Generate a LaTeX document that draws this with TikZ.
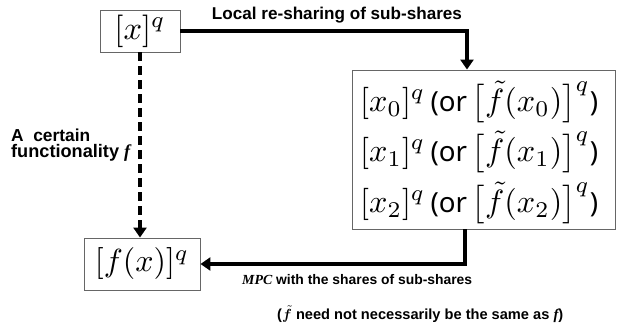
\documentclass[tikz,border=0pt]{standalone}
\usepackage{graphicx}
\usepackage{amsmath}
\usepackage{bm}
\usepackage{fontspec}
\newfontfamily\labfont{Liberation Sans}
\newfontfamily\orfont{Noto Sans}
\newfontfamily\serifbi{Liberation Serif}
\usetikzlibrary{arrows.meta,calc}
\newcommand{\bline}[1]{\resizebox{238pt}{!}{$[x_{#1}]^q\,${\orfont\fontsize{8.6}{10}\selectfont(or\,}$\bigl[\tilde f(x_{#1})\bigr]^q${\orfont\fontsize{8.6}{10}\selectfont)}}}
\newcommand{\bif}[1]{{\serifbi\bfseries\itshape #1}}
\begin{document}
\begin{tikzpicture}[x=1pt,y=-1pt,
  box/.style={draw=black!60,line width=0.9pt,inner sep=0pt,align=center},
  arr/.style={line width=3.6pt,-{Triangle[width=13pt,length=10pt]}},
  dasharr/.style={line width=3.6pt,dash pattern=on 9pt off 5pt,-{Triangle[width=13pt,length=10pt]}},
  lab/.style={font=\labfont\bfseries,inner sep=0pt},
  mline/.style={anchor=west,inner sep=0pt}]
\useasboundingbox (0,0) rectangle (633,332);
\node[box,minimum width=80pt,minimum height=42pt] (A) at (140,31) {\resizebox{51pt}{!}{$[x]^q$}};
\node[box,minimum width=263pt,minimum height=159pt] (B) at (483.5,149.5) {};
\node[box,minimum width=116pt,minimum height=52pt] (C) at (142,264) {\resizebox{94pt}{!}{$[f(x)]^q$}};
\node[mline] (B0) at (360,102) {\bline{0}};
\node[mline] (B1) at (360,152) {\bline{1}};
\node[mline] (B2) at (360,203) {\bline{2}};
\coordinate (t1) at ([xshift=-16.5pt]B.north);
\coordinate (t2) at ([xshift=-18.5pt]B.south);
\draw[arr] (A.east) -| (t1);
\draw[arr] (t2) |- (C.east);
\draw[dasharr] (A.south) -- (A.south |- C.north);
\node[lab] (L1) at (337,15) {\resizebox{250pt}{!}{Local re-sharing of sub-shares}};
\node[lab,anchor=west] (L2) at (242,280) {\resizebox{230pt}{!}{\bif{MPC} with the shares of sub-shares}};
\node[lab,anchor=west] (L3) at (277,314) {\resizebox{286pt}{!}{($\bm{\tilde f}$ need not necessarily be the same as \bif{f})}};
\node[lab,anchor=west] (L4) at (11,135) {\resizebox{79pt}{!}{A\ \ certain}};
\node[lab,anchor=west] (L5) at (11,153) {\resizebox{119pt}{!}{functionality \bif{f}}};
\end{tikzpicture}
\end{document}
